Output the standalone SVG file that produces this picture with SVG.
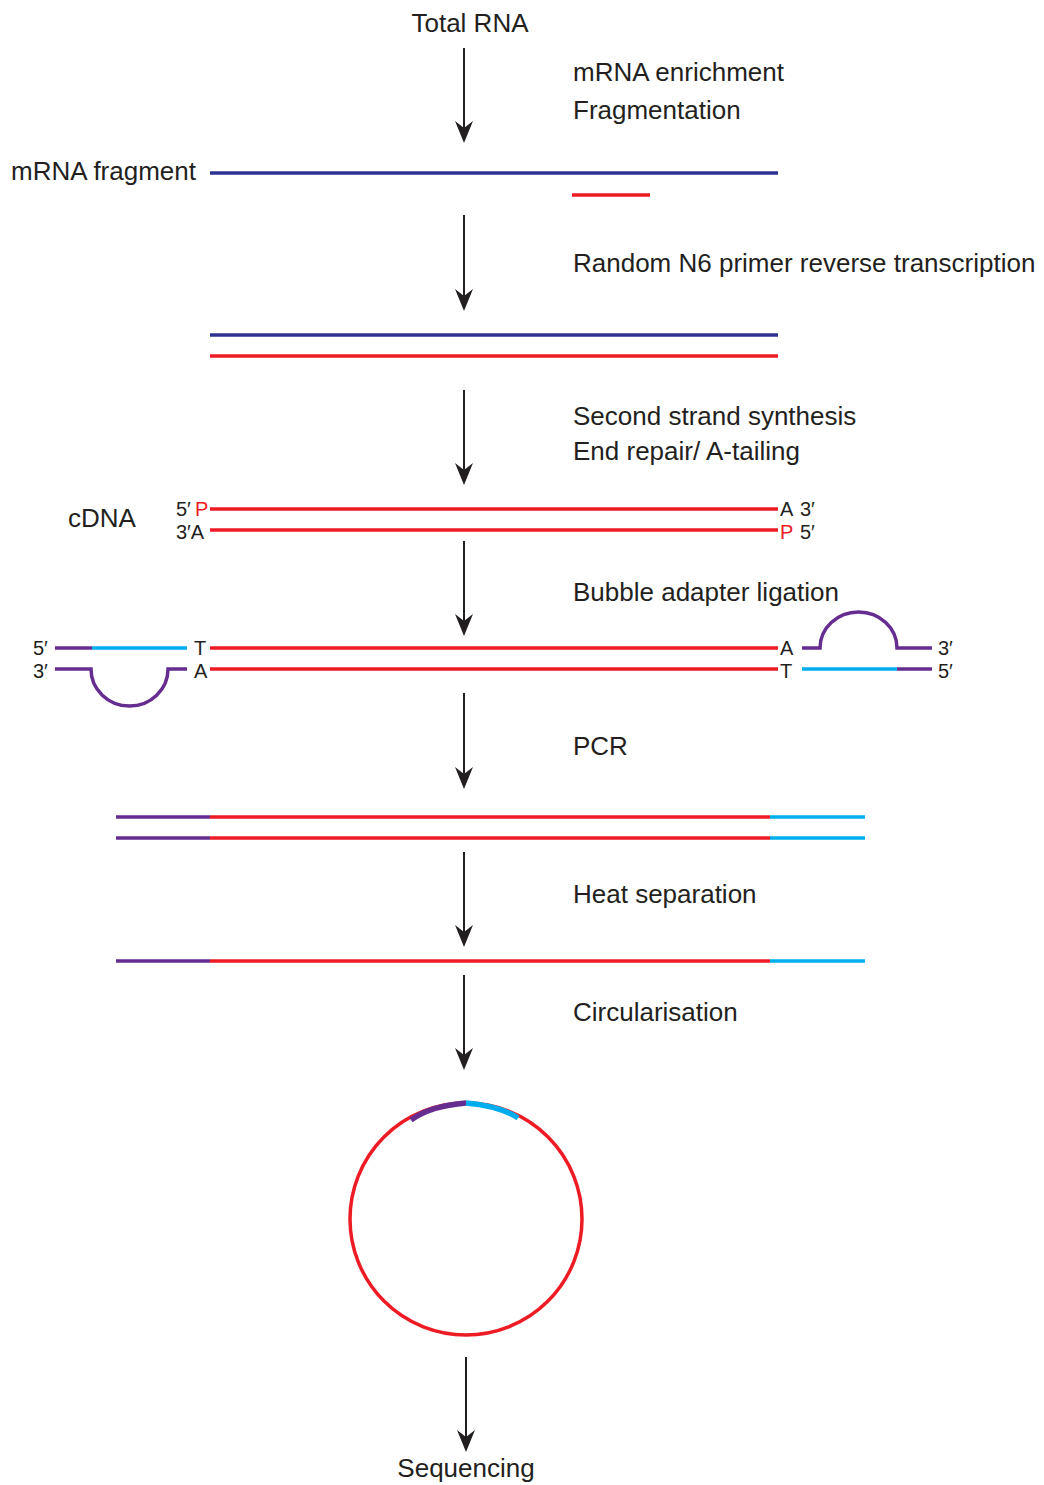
<svg xmlns="http://www.w3.org/2000/svg" width="1044" height="1485" viewBox="0 0 1044 1485">
<style>
text{font-family:"Liberation Sans",Arial,sans-serif;fill:#231f20}
.lbl{font-size:26px}
.sm{font-size:20px}
.red{fill:#ed1c24}
.b{stroke:#2e3192;stroke-width:3.5;fill:none}
.r{stroke:#ed1c24;stroke-width:3.5;fill:none}
.p{stroke:#662d91;stroke-width:3.5;fill:none}
.c{stroke:#00aeef;stroke-width:3.5;fill:none}
.arr{stroke:#231f20;stroke-width:2;fill:none}
.head{fill:#231f20}
</style>
<rect width="1044" height="1485" fill="#fff"/>
<g id="connectors">
<path class="arr" d="M464,48 V128"/><path class="head" d="M455,121 L464,128 L473,121 L464,143 Z"/>
<path class="arr" d="M464,215 V296"/><path class="head" d="M455,289 L464,296 L473,289 L464,311 Z"/>
<path class="arr" d="M464,390 V470"/><path class="head" d="M455,463 L464,470 L473,463 L464,485 Z"/>
<path class="arr" d="M464,541 V621"/><path class="head" d="M455,614 L464,621 L473,614 L464,636 Z"/>
<path class="arr" d="M464,693 V774"/><path class="head" d="M455,767 L464,774 L473,767 L464,789 Z"/>
<path class="arr" d="M464,852 V932"/><path class="head" d="M455,925 L464,932 L473,925 L464,947 Z"/>
<path class="arr" d="M464,975 V1055"/><path class="head" d="M455,1048 L464,1055 L473,1048 L464,1070 Z"/>
<path class="arr" d="M466,1357 V1437"/><path class="head" d="M457,1430 L466,1437 L475,1430 L466,1452 Z"/>
</g>
<g id="total-rna"><text class="lbl" x="470" y="32" text-anchor="middle">Total RNA</text></g>
<g id="step1-label"><text class="lbl" x="573" y="81">mRNA enrichment</text><text class="lbl" x="573" y="119">Fragmentation</text></g>
<g id="mrna-fragment">
<text class="lbl" x="196" y="180" text-anchor="end">mRNA fragment</text>
<line class="b" x1="210" y1="173" x2="778" y2="173"/>
<line class="r" x1="572" y1="195" x2="650" y2="195"/>
</g>
<g id="step2-label"><text class="lbl" x="573" y="272">Random N6 primer reverse transcription</text></g>
<g id="rt-duplex">
<line class="b" x1="210" y1="335" x2="778" y2="335"/>
<line class="r" x1="210" y1="356" x2="778" y2="356"/>
</g>
<g id="step3-label"><text class="lbl" x="573" y="425">Second strand synthesis</text><text class="lbl" x="573" y="460">End repair/ A-tailing</text></g>
<g id="cdna">
<text class="lbl" x="68" y="527">cDNA</text>
<line class="r" x1="210" y1="509" x2="778" y2="509"/>
<line class="r" x1="210" y1="530" x2="778" y2="530"/>
<text class="sm" x="176" y="516">5′</text><text class="sm red" x="195" y="516">P</text>
<text class="sm" x="176" y="539">3′A</text>
<text class="sm" x="780" y="516">A</text><text class="sm" x="800" y="516">3′</text>
<text class="sm red" x="780" y="539">P</text><text class="sm" x="800" y="539">5′</text>
</g>
<g id="step4-label"><text class="lbl" x="573" y="601">Bubble adapter ligation</text></g>
<g id="ligation">
<line class="r" x1="210" y1="648" x2="778" y2="648"/>
<line class="r" x1="210" y1="669" x2="778" y2="669"/>
<line class="p" x1="55" y1="648" x2="92" y2="648"/>
<line class="c" x1="92" y1="648" x2="187" y2="648"/>
<path class="p" d="M55,669 H91 A38.5,37 0 0 0 168,669 H187"/>
<text class="sm" x="33" y="655">5′</text><text class="sm" x="33" y="678">3′</text>
<text class="sm" x="194" y="655">T</text><text class="sm" x="194" y="678">A</text>
<path class="p" d="M802,648 H820 A38.5,36 0 0 1 897,648 H932"/>
<line class="c" x1="802" y1="669" x2="897" y2="669"/>
<line class="p" x1="897" y1="669" x2="932" y2="669"/>
<text class="sm" x="780" y="655">A</text><text class="sm" x="780" y="678">T</text>
<text class="sm" x="938" y="655">3′</text><text class="sm" x="938" y="678">5′</text>
</g>
<g id="step5-label"><text class="lbl" x="573" y="755">PCR</text></g>
<g id="pcr-duplex">
<line class="p" x1="116" y1="817" x2="210" y2="817"/><line class="r" x1="210" y1="817" x2="770" y2="817"/><line class="c" x1="770" y1="817" x2="865" y2="817"/>
<line class="p" x1="116" y1="838" x2="210" y2="838"/><line class="r" x1="210" y1="838" x2="770" y2="838"/><line class="c" x1="770" y1="838" x2="865" y2="838"/>
</g>
<g id="step6-label"><text class="lbl" x="573" y="903">Heat separation</text></g>
<g id="single-strand">
<line class="p" x1="116" y1="961" x2="210" y2="961"/><line class="r" x1="210" y1="961" x2="770" y2="961"/><line class="c" x1="770" y1="961" x2="865" y2="961"/>
</g>
<g id="step7-label"><text class="lbl" x="573" y="1021">Circularisation</text></g>
<g id="circle">
<circle cx="466" cy="1219" r="116" class="r"/>
<path d="M411,1120 Q430,1106 466,1103" stroke="#662d91" stroke-width="5.5" fill="none"/>
<path d="M466,1103 Q500,1106 518,1118" stroke="#00aeef" stroke-width="5.5" fill="none"/>
</g>
<g id="sequencing"><text class="lbl" x="466" y="1477" text-anchor="middle">Sequencing</text></g>
</svg>
